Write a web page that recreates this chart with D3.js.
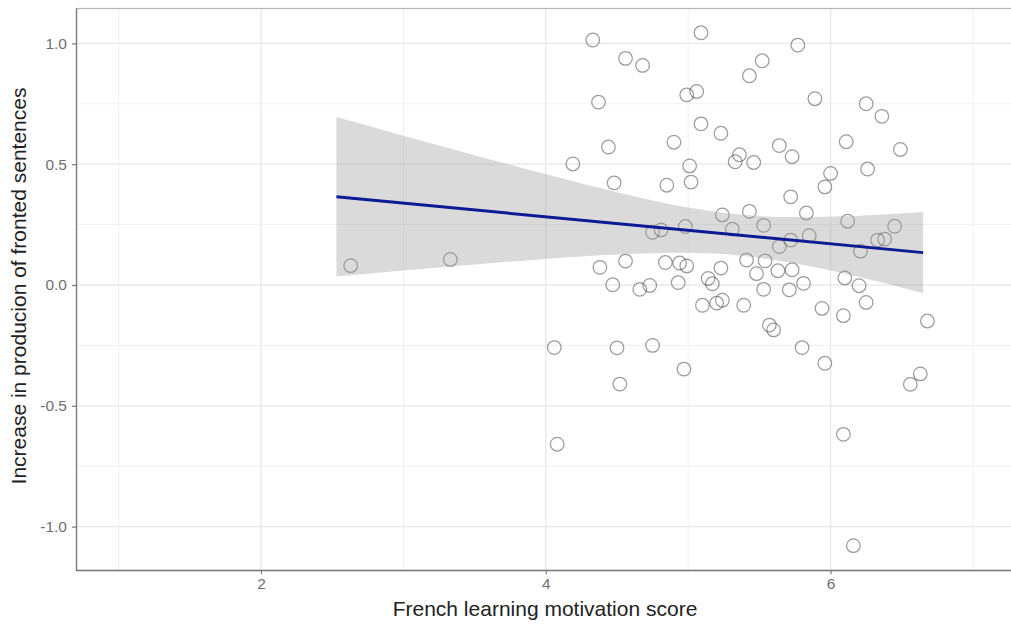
<!DOCTYPE html>
<html>
<head>
<meta charset="utf-8">
<script src="https://cdn.jsdelivr.net/npm/d3@7"></script>
<style>
  html, body { margin: 0; padding: 0; background: #fff; }
  svg { display: block; font-family: "Liberation Sans", Arial, Helvetica, sans-serif; }
</style>
</head>
<body>
<svg id="chart" width="1011" height="626"></svg>
<script>
// Motivation score (x) and change in fronted-sentence production (y) per learner
const motivation = [
  2.63, 3.33, 4.33, 4.56, 4.68, 4.37, 4.44, 4.19, 4.48, 5.09,
  4.99, 5.06, 5.09, 4.90, 5.01, 4.85, 5.02, 4.75, 4.81, 4.98,
  4.38, 4.56, 4.84, 4.94, 4.99, 4.47, 4.66, 4.73, 4.93, 5.14,
  5.17, 5.10, 5.20, 5.24, 4.06, 4.50, 4.75, 4.52, 4.08, 4.97,
  5.23, 5.24, 5.23, 5.77, 5.52, 5.43, 5.89, 6.25, 6.36, 5.64,
  5.73, 6.11, 6.49, 5.36, 5.33, 5.46, 6.26, 6.00, 5.96, 5.72,
  5.83, 5.43, 6.12, 5.53, 5.31, 6.45, 6.33, 6.38, 5.72, 5.64,
  5.85, 6.21, 5.41, 5.54, 5.48, 5.63, 5.73, 5.81, 5.71, 5.53,
  6.10, 6.20, 6.25, 5.94, 5.39, 6.09, 6.68, 5.57, 5.60, 5.80,
  5.96, 6.56, 6.63, 6.09, 6.16
];
const increase = [
  0.080, 0.106, 1.014, 0.938, 0.909, 0.757, 0.571, 0.501, 0.423, 1.044,
  0.787, 0.801, 0.667, 0.591, 0.493, 0.413, 0.426, 0.218, 0.228, 0.242,
  0.073, 0.099, 0.093, 0.091, 0.079, 0.001, -0.018, -0.002, 0.010, 0.027,
  0.005, -0.084, -0.075, -0.063, -0.259, -0.260, -0.250, -0.410, -0.659, -0.348,
  0.070, 0.290, 0.628, 0.993, 0.928, 0.866, 0.771, 0.750, 0.698, 0.577,
  0.531, 0.593, 0.561, 0.539, 0.510, 0.507, 0.480, 0.462, 0.406, 0.365,
  0.298, 0.305, 0.264, 0.247, 0.231, 0.243, 0.186, 0.190, 0.186, 0.159,
  0.204, 0.140, 0.103, 0.100, 0.047, 0.059, 0.063, 0.007, -0.020, -0.018,
  0.029, -0.003, -0.072, -0.097, -0.084, -0.127, -0.149, -0.166, -0.186, -0.259,
  -0.324, -0.411, -0.368, -0.618, -1.079
];

// Fitted linear trend and its confidence band
const fitX = [2.53, 6.65];
const fitY = [0.365, 0.134];
const bandX     = [2.53, 3.0, 3.5, 4.0, 4.5, 5.0, 5.36, 5.75, 6.2, 6.65];
const bandUpper = [0.695, 0.618, 0.537, 0.458, 0.384, 0.321, 0.292, 0.281, 0.287, 0.302];
const bandLower = [0.035, 0.060, 0.085, 0.108, 0.126, 0.133, 0.122, 0.089, 0.033, -0.034];

// Axis ticks
const xMajor = [2, 4, 6];
const xMinor = [1, 3, 5, 7];
const yMajor = [-1.0, -0.5, 0.0, 0.5, 1.0];
const yMinor = [-0.75, -0.25, 0.25, 0.75];

const xTitle = "French learning motivation score";
const yTitle = "Increase in producion of fronted sentences";

(function draw() {
  const svg = d3.select("#chart");
  const pLeft = 76, pRight = 1010, pTop = 8, pBottom = 570;

  const x = d3.scaleLinear().domain([0.701, 7.26]).range([pLeft, pRight]);
  const y = d3.scaleLinear().domain([-1.1796, 1.1465]).range([pBottom, pTop]);

  const panel = svg.append("g");
  const gridRight = 1012;

  // grid
  panel.selectAll("line.xminor").data(xMinor).join("line").attr("class", "xminor")
    .attr("x1", d => x(d)).attr("x2", d => x(d)).attr("y1", pTop).attr("y2", pBottom)
    .attr("stroke", "#f0f0f0").attr("stroke-width", 1);
  panel.selectAll("line.yminor").data(yMinor).join("line").attr("class", "yminor")
    .attr("y1", d => y(d)).attr("y2", d => y(d)).attr("x1", pLeft).attr("x2", gridRight)
    .attr("stroke", "#f0f0f0").attr("stroke-width", 1);
  panel.selectAll("line.xmajor").data(xMajor).join("line").attr("class", "xmajor")
    .attr("x1", d => x(d)).attr("x2", d => x(d)).attr("y1", pTop).attr("y2", pBottom)
    .attr("stroke", "#e8e8e8").attr("stroke-width", 1.3);
  panel.selectAll("line.ymajor").data(yMajor).join("line").attr("class", "ymajor")
    .attr("y1", d => y(d)).attr("y2", d => y(d)).attr("x1", pLeft).attr("x2", gridRight)
    .attr("stroke", "#e8e8e8").attr("stroke-width", 1.3);

  // points
  const pts = motivation.map((m, i) => ({ m, v: increase[i] }));
  panel.selectAll("circle").data(pts).join("circle")
    .attr("cx", d => x(d.m)).attr("cy", d => y(d.v)).attr("r", 6.8)
    .attr("fill", "none").attr("stroke", "#4a4a4a").attr("stroke-opacity", 0.55)
    .attr("stroke-width", 1.25);

  // confidence band
  const band = bandX.map((b, i) => ({ b, lo: bandLower[i], hi: bandUpper[i] }));
  panel.append("path").datum(band)
    .attr("d", d3.area().x(d => x(d.b)).y0(d => y(d.lo)).y1(d => y(d.hi)).curve(d3.curveMonotoneX))
    .attr("fill", "#999").attr("fill-opacity", 0.36);

  // trend line
  panel.append("path").datum(fitX.map((f, i) => [f, fitY[i]]))
    .attr("d", d3.line().x(d => x(d[0])).y(d => y(d[1])))
    .attr("fill", "none").attr("stroke", "#0c1a94").attr("stroke-width", 3);

  // panel border (right edge runs past the canvas)
  svg.append("rect").attr("x", pLeft + 0.5).attr("y", pTop + 0.5)
    .attr("width", gridRight + 4 - pLeft).attr("height", pBottom - pTop)
    .attr("fill", "none").attr("stroke", "#b5b5b5").attr("stroke-width", 1.2);

  // axes
  const hyphenFmt = d => d3.format(".1f")(d).replace("\u2212", "-");
  const xAxis = svg.append("g").attr("transform", `translate(0,${pBottom})`)
    .call(d3.axisBottom(x).tickValues(xMajor).tickFormat(d3.format("d"))
      .tickSizeInner(4).tickSizeOuter(0).tickPadding(4));
  xAxis.select(".domain").attr("d", `M${pLeft},0.5H${gridRight}`);
  const yAxis = svg.append("g").attr("transform", `translate(${pLeft},0)`)
    .call(d3.axisLeft(y).tickValues(yMajor).tickFormat(hyphenFmt)
      .tickSizeInner(4).tickSizeOuter(0).tickPadding(5));
  [xAxis, yAxis].forEach(a => {
    a.select(".domain").attr("stroke", "#7a7a7a").attr("stroke-width", 1.3);
    a.selectAll(".tick line").attr("stroke", "#7a7a7a").attr("stroke-width", 1.2);
    a.selectAll(".tick text").attr("fill", "#707070").style("font-size", "15.5px")
      .style("font-family", '"Liberation Sans", Arial, sans-serif');
  });

  // titles
  svg.append("text").attr("x", 545).attr("y", 616)
    .attr("text-anchor", "middle").attr("fill", "#222").style("font-size", "21px")
    .text(xTitle);
  svg.append("text").attr("transform", `translate(26,${286}) rotate(-90)`)
    .attr("text-anchor", "middle").attr("fill", "#222").style("font-size", "21px")
    .text(yTitle);
})();
</script>
</body>
</html>
